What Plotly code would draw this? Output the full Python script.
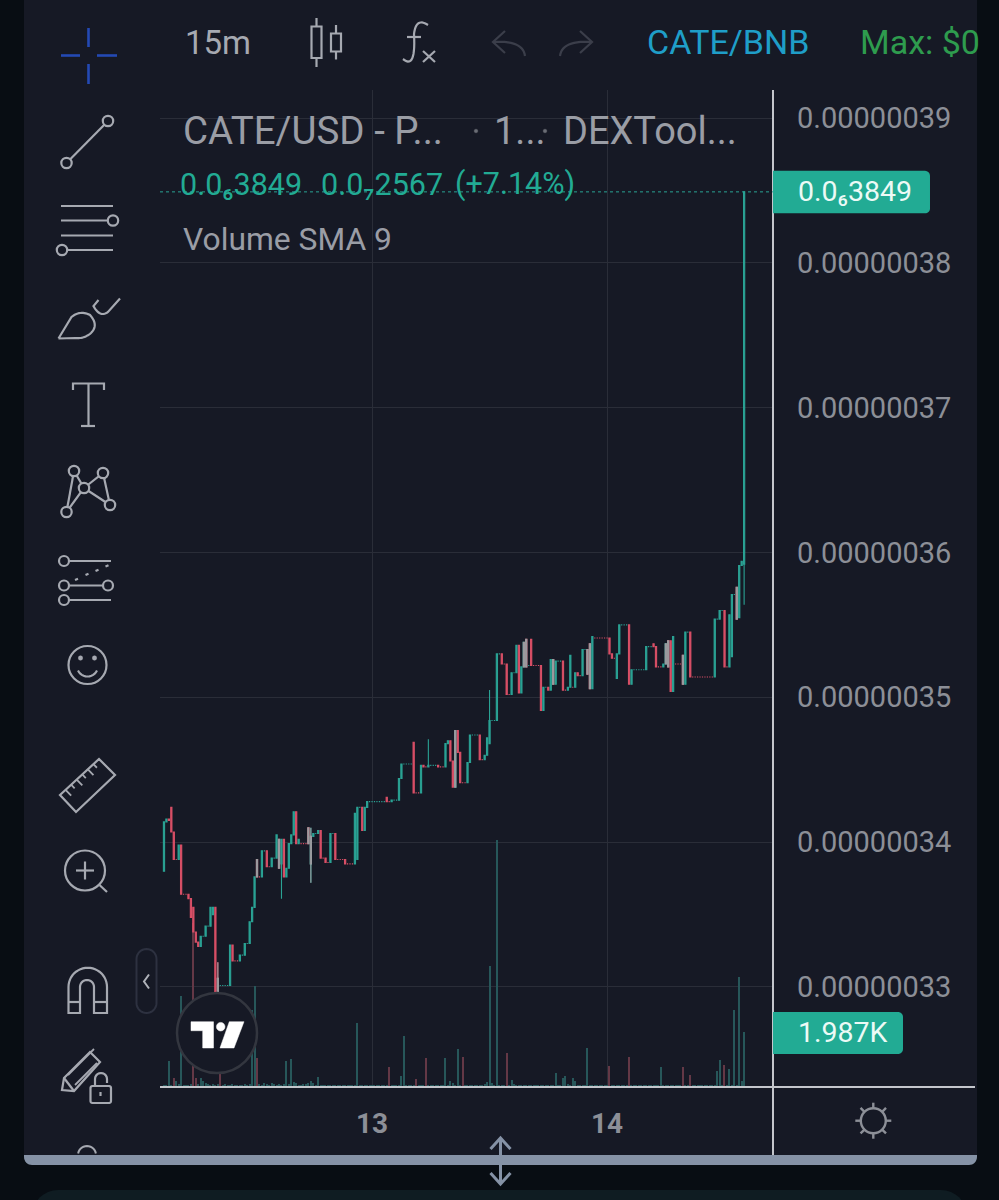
import math
import plotly.graph_objects as go

W, H = 999, 1200

# 15-minute bars, prices in units of 1e-8
opens = [
    33.80, 34.14, 34.16, 34.24, 34.07, 33.88, 33.88, 33.98, 33.64, 33.64,
    33.64, 33.61, 33.55, 33.38, 33.31, 33.28, 33.35, 33.35, 33.42, 33.42,
    33.50, 33.55, 33.06, 33.01, 33.01, 33.01, 33.01, 33.01, 33.29, 33.18,
    33.18, 33.18, 33.22, 33.22, 33.30, 33.30, 33.45, 33.55, 33.88, 33.76,
    33.76, 33.94, 33.94, 33.83, 33.83, 33.89, 33.89, 34.02, 33.85, 34.02,
    33.76, 33.82, 33.99, 34.05, 34.21, 33.99, 33.99, 33.99, 33.99, 34.10,
    33.85, 34.04, 34.06, 34.06, 34.08, 33.89, 33.89, 33.86, 33.86, 34.06,
    34.06, 33.88, 33.88, 33.88, 33.88, 33.85, 33.85, 33.85, 33.85, 33.88,
    34.24, 34.24, 34.08, 34.24, 34.28, 34.28, 34.28, 34.28, 34.28, 34.28,
    34.28, 34.31, 34.28, 34.28, 34.29, 34.29, 34.29, 34.44, 34.54, 34.54,
    34.54, 34.54, 34.69, 34.34, 34.34, 34.34, 34.53, 34.52, 34.52, 34.53,
    34.53, 34.53, 34.53, 34.52, 34.52, 34.52, 34.68, 34.70, 34.56, 34.38,
    34.77, 34.62, 34.41, 34.41, 34.41, 34.55, 34.74, 34.74, 34.74, 34.74,
    34.57, 34.57, 34.60, 34.68, 34.84, 34.84, 34.84, 35.30, 35.30, 35.23,
    35.23, 35.02, 35.02, 35.17, 35.17, 35.36, 35.03, 35.21, 35.40, 35.22,
    35.40, 35.22, 35.22, 35.22, 35.22, 34.91, 35.07, 35.07, 35.05, 35.26,
    35.09, 35.25, 35.25, 35.25, 35.05, 35.05, 35.07, 35.07, 35.07, 35.17,
    35.15, 35.15, 35.33, 35.33, 35.37, 35.06, 35.41, 35.41, 35.41, 35.41,
    35.41, 35.41, 35.41, 35.30, 35.27, 35.13, 35.30, 35.50, 35.50, 35.50,
    35.50, 35.09, 35.19, 35.19, 35.19, 35.19, 35.19, 35.19, 35.35, 35.35,
    35.37, 35.35, 35.21, 35.21, 35.21, 35.23, 35.39, 35.39, 35.04, 35.23,
    35.23, 35.23, 35.29, 35.09, 35.45, 35.45, 35.14, 35.14, 35.14, 35.14,
    35.14, 35.14, 35.14, 35.14, 35.14, 35.14, 35.54, 35.54, 35.60, 35.60,
    35.21, 35.21, 35.28, 35.71, 35.76, 35.55, 35.91, 35.92,
]
closes = [
    34.14, 34.16, 34.15, 34.07, 33.88, 33.88, 33.98, 33.64, 33.64, 33.64,
    33.61, 33.48, 33.38, 33.31, 33.28, 33.35, 33.35, 33.42, 33.42, 33.55,
    33.55, 32.95, 32.95, 33.01, 33.01, 33.01, 33.01, 33.29, 33.18, 33.18,
    33.18, 33.22, 33.22, 33.30, 33.30, 33.45, 33.55, 33.76, 33.76, 33.76,
    33.94, 33.94, 33.83, 33.83, 33.89, 33.89, 34.05, 33.82, 34.02, 33.76,
    33.82, 33.99, 34.05, 34.21, 33.99, 34.02, 33.99, 33.99, 33.99, 33.99,
    34.04, 34.06, 34.06, 34.08, 33.89, 33.89, 33.86, 33.86, 34.06, 34.06,
    33.88, 33.88, 33.88, 33.88, 33.85, 33.85, 33.85, 33.85, 34.20, 34.24,
    34.24, 34.08, 34.24, 34.28, 34.28, 34.28, 34.28, 34.28, 34.28, 34.28,
    34.28, 34.28, 34.28, 34.29, 34.29, 34.29, 34.44, 34.54, 34.54, 34.54,
    34.54, 34.54, 34.34, 34.34, 34.34, 34.53, 34.52, 34.52, 34.53, 34.53,
    34.53, 34.53, 34.52, 34.52, 34.52, 34.68, 34.70, 34.56, 34.38, 34.77,
    34.62, 34.41, 34.41, 34.41, 34.55, 34.74, 34.74, 34.74, 34.74, 34.57,
    34.57, 34.60, 34.72, 34.84, 34.84, 34.84, 35.30, 35.30, 35.23, 35.23,
    35.02, 35.02, 35.17, 35.17, 35.36, 35.03, 35.21, 35.38, 35.21, 35.22,
    35.22, 35.22, 35.22, 35.22, 34.91, 35.07, 35.07, 35.05, 35.26, 35.09,
    35.25, 35.25, 35.25, 35.05, 35.05, 35.07, 35.29, 35.07, 35.17, 35.15,
    35.15, 35.33, 35.33, 35.16, 35.06, 35.42, 35.41, 35.41, 35.41, 35.41,
    35.41, 35.41, 35.30, 35.27, 35.27, 35.30, 35.50, 35.50, 35.50, 35.50,
    35.09, 35.19, 35.19, 35.19, 35.19, 35.19, 35.19, 35.35, 35.35, 35.35,
    35.35, 35.21, 35.21, 35.21, 35.23, 35.37, 35.21, 35.04, 35.42, 35.23,
    35.23, 35.23, 35.09, 35.45, 35.45, 35.14, 35.14, 35.14, 35.14, 35.14,
    35.14, 35.14, 35.14, 35.14, 35.14, 35.54, 35.54, 35.60, 35.60, 35.21,
    35.21, 35.57, 35.71, 35.71, 35.54, 35.91, 35.94, 38.49,
]
# bars whose wick extends past the body
wick_highs = {22: 33.17, 60: 34.10, 108: 34.71, 133: 35.05}
wick_lows = {48: 33.61, 60: 33.72, 237: 35.64}
# bars drawn in the chart's neutral grey
grey_bars = [22, 38, 47, 59, 60, 119, 147, 148, 159, 173, 174, 205, 206, 212, 234]

volumes = [
    60, 90, 940, 70, 340, 216, 110, 3280, 60, 80,
    90, 110, 5925, 340, 120, 340, 216, 150, 100, 80,
    120, 90, 110, 456, 90, 110, 70, 60, 100, 80,
    70, 60, 90, 110, 80, 120, 2800, 3650, 1056, 110,
    90, 150, 110, 90, 130, 100, 80, 120, 90, 110,
    936, 120, 1020, 180, 140, 90, 80, 110, 100, 130,
    216, 150, 90, 360, 80, 60, 70, 90, 60, 50,
    60, 70, 50, 60, 80, 50, 60, 50, 70, 2316,
    70, 50, 60, 40, 60, 50, 70, 60, 40, 50,
    60, 50, 720, 70, 40, 60, 50, 396, 1860, 60,
    50, 70, 90, 276, 70, 60, 50, 1032, 60, 50,
    60, 70, 50, 60, 40, 1032, 70, 216, 150, 90,
    1380, 80, 1080, 70, 60, 90, 50, 60, 40, 50,
    70, 100, 180, 4370, 130, 60, 8925, 90, 70, 60,
    1236, 90, 240, 120, 60, 80, 50, 70, 90, 60,
    50, 60, 80, 60, 50, 70, 60, 50, 60, 70,
    516, 90, 60, 336, 384, 120, 70, 312, 216, 90,
    60, 70, 80, 1416, 70, 60, 50, 80, 60, 50,
    60, 70, 756, 90, 60, 80, 50, 70, 60, 50,
    1080, 60, 50, 70, 60, 90, 50, 60, 40, 70,
    60, 50, 70, 732, 60, 90, 50, 70, 60, 80,
    50, 70, 732, 60, 90, 432, 60, 50, 70, 60,
    50, 60, 80, 60, 70, 60, 576, 960, 80, 780,
    70, 660, 90, 2772, 60, 3975, 220, 1987,
]
red_volume_bars = [4, 12, 13, 23, 38, 92, 103, 107, 122, 140, 182, 190, 212, 215, 229]

price_ticks = [33, 34, 35, 36, 37, 38, 39]
day_ticks = [85, 181]
day_labels = ["13", "14"]

UP = "#2aa294"
DOWN = "#d84f66"
GREY_BAR = "#9b9b9f"
VOL_UP = "#27575a"
VOL_DOWN = "#643846"
PANEL = "#161925"
DARK = "#080d13"
GRID = "#2a2d38"
ICON = "#a6a9b1"
LABEL = "#8c8f97"
AXIS = "#c4c6cc"

bars = list(range(len(closes)))
highs = [wick_highs.get(i, max(opens[i], closes[i])) for i in bars]
lows = [wick_lows.get(i, min(opens[i], closes[i])) for i in bars]

E8 = 1e-8
PRICE_LOW, PRICE_HIGH = 32.3095, 39.1933
VOL_TOP = 36025

shapes = []


def px(x, y):
    return x / W, 1 - y / H


def svg(points, closed=False):
    parts = []
    for k, (x, y) in enumerate(points):
        a, b = px(x, y)
        parts.append(f"{'M' if k == 0 else 'L'}{a:.5f},{b:.5f}")
    return " ".join(parts) + (" Z" if closed else "")


def stroke(points, color=ICON, width=2.2, closed=False, fill=None, layer="above"):
    shapes.append(dict(type="path", xref="paper", yref="paper", path=svg(points, closed),
                       line=dict(color=color, width=width),
                       fillcolor=fill if fill else "rgba(0,0,0,0)", layer=layer))


def arc(cx, cy, r, a0, a1, n=24):
    return [(cx + r * math.cos(math.radians(a0 + (a1 - a0) * k / n)),
             cy + r * math.sin(math.radians(a0 + (a1 - a0) * k / n))) for k in range(n + 1)]


def curve(p0, p1, p2, n=14):
    out = []
    for k in range(n + 1):
        t = k / n
        out.append(((1 - t) ** 2 * p0[0] + 2 * t * (1 - t) * p1[0] + t * t * p2[0],
                    (1 - t) ** 2 * p0[1] + 2 * t * (1 - t) * p1[1] + t * t * p2[1]))
    return out


def ring(cx, cy, r, color=ICON, width=2.2, fill=PANEL):
    x0, y0 = px(cx - r, cy - r)
    x1, y1 = px(cx + r, cy + r)
    shapes.append(dict(type="circle", xref="paper", yref="paper", x0=x0, y0=y0, x1=x1, y1=y1,
                       line=dict(color=color, width=width), fillcolor=fill, layer="above"))


def box(x0, y0, x1, y1, fill, layer="below"):
    a, b = px(x0, y0)
    c, d = px(x1, y1)
    shapes.append(dict(type="rect", xref="paper", yref="paper", x0=a, y0=b, x1=c, y1=d,
                       line=dict(width=0), fillcolor=fill, layer=layer))


def rounded(x0, y0, x1, y1, radii, fill, color=None, width=0, layer="below"):
    tl, tr, br, bl = radii
    pts = arc(x0 + tl, y0 + tl, tl, 180, 270, 8) + arc(x1 - tr, y0 + tr, tr, 270, 360, 8)
    pts += arc(x1 - br, y1 - br, br, 0, 90, 8) + arc(x0 + bl, y1 - bl, bl, 90, 180, 8)
    stroke(pts, color=color or fill, width=width, closed=True, fill=fill, layer=layer)


# surrounding page and panel
box(0, 0, W, H, DARK)
box(24, 0, 977, 1155, PANEL)
rounded(24, 1155, 977, 1165, (0, 0, 8, 8), "#8592a6")
rounded(32, 1190, 967, 1240, (26, 26, 0, 0), "#0f1c22")

# drawing toolbar, top to bottom
BLUE = "#2449b4"
for seg in ([(61, 55.5), (80, 55.5)], [(97, 55.5), (117, 55.5)], [(88.5, 28), (88.5, 47)], [(88.5, 64), (88.5, 84)]):
    stroke(seg, color=BLUE, width=2.6)

stroke([(66.5, 163), (108, 121)])
ring(66.5, 163, 5.2)
ring(108, 121, 5.2)

for y in (206, 220.5, 235.5, 250):
    stroke([(61, y), (113, y)])
ring(113, 220.5, 5.2)
ring(62, 250, 5.2)

stroke([(120, 298.5), (108, 312)] + curve((108, 312), (100, 318), (93.5, 306)) + [(98.5, 300)])
stroke([(58.5, 338.5), (71.5, 317)] + curve((71.5, 317), (80, 310), (90, 315)) +
       curve((90, 315), (99, 325), (91, 333)) + curve((91, 333), (84, 339), (75, 338)) + [(58.5, 338.5)])

stroke([(73, 390), (73, 383.5), (104, 383.5), (104, 390)])
stroke([(88.5, 383.5), (88.5, 426)])
stroke([(81, 426), (95, 426)])

pat = [(66.5, 512), (74, 471), (84, 488), (103, 473), (110, 505)]
stroke([pat[0], pat[1]])
stroke([pat[1], pat[2], pat[0]])
stroke([pat[2], pat[3], pat[4], pat[2]])
for x, y in pat:
    ring(x, y, 5.2)

stroke([(64, 561), (111, 561)])
stroke([(64, 585.5), (108, 585.5)])
stroke([(64, 600), (111, 600)])
for x, y in ((75, 580), (85.5, 575), (95.5, 571), (105.5, 566.5)):
    stroke([(x, y), (x + 3, y - 1.2)])
for x, y in ((64, 561), (64, 585.5), (108, 585.5), (64, 600)):
    ring(x, y, 5)

ring(87.5, 665, 19)
ring(80.5, 658, 2.2, fill=ICON, width=0.5)
ring(94.5, 658, 2.2, fill=ICON, width=0.5)
stroke(arc(87.5, 666, 10.5, 25, 155, 12))

stroke([(60, 795), (99, 759), (115, 775), (76, 812)], closed=True)
for k in range(1, 7):
    xa, ya = 60 + (99 - 60) * k / 7, 795 + (759 - 795) * k / 7
    tick = 8 if k % 2 else 5
    stroke([(xa, ya), (xa + tick * 0.7, ya + tick * 0.72)], width=1.8)

ring(85, 870.5, 20)
stroke([(76, 870.5), (94, 870.5)])
stroke([(85, 861.5), (85, 879.5)])
stroke([(99.5, 885), (107, 892)])

stroke([(68.5, 1013)] + arc(87.75, 987, 19.25, 180, 360) + [(107, 1013), (94, 1013)] +
       arc(87, 987, 7, 360, 180) + [(80, 1013)], closed=True)
stroke([(68.5, 1002), (80, 1002)])
stroke([(94, 1002), (107, 1002)])

stroke([(62, 1090), (64, 1078), (90, 1052), (100, 1062), (74, 1091)], closed=True)
stroke([(64, 1078), (74, 1091)])
stroke([(68, 1075), (94, 1049)], width=1.8)
stroke([(75, 1085), (97, 1063)], width=1.8)
rounded(90.5, 1086, 111, 1103, (2, 2, 2, 2), PANEL, color=ICON, width=2.2, layer="above")
stroke([(95, 1086)] + arc(101, 1079, 6, 180, 360, 10) + [(107, 1083)])
stroke([(100.5, 1092), (100.5, 1096)])

stroke(arc(87, 1155, 9, 190, 350, 14), width=2)

# top bar icons
stroke([(311.5, 26.5), (321.5, 26.5), (321.5, 58), (311.5, 58)], closed=True)
stroke([(316.5, 18), (316.5, 26.5)])
stroke([(316.5, 58), (316.5, 67)])
stroke([(331, 33.5), (341, 33.5), (341, 51.5), (331, 51.5)], closed=True)
stroke([(336, 25), (336, 33.5)])
stroke([(336, 51.5), (336, 59.5)])

stroke(curve((428, 25), (416, 17), (414, 34)) + curve((414, 34), (416, 70), (403, 59)))
stroke([(407, 37), (421, 37)])
stroke([(423, 51), (435, 62)])
stroke([(435, 51), (423, 62)])

DIM = "#3b3e4a"
stroke([(505, 31), (493, 42), (505, 53)], color=DIM)
stroke([(493, 42)] + curve((493, 42), (523, 40), (525, 56)), color=DIM)
stroke([(580, 31), (592, 42), (580, 53)], color=DIM)
stroke([(592, 42)] + curve((592, 42), (562, 40), (560, 56)), color=DIM)

# price-axis and time-axis rules
stroke([(773, 90), (773, 1155)], color=AXIS, width=2)
stroke([(160, 1087), (975, 1087)], color=AXIS, width=2)

# settings wheel
ring(873.3, 1120.7, 12.5, color=LABEL, width=2.4, fill=PANEL)
for ang in range(0, 360, 45):
    c, s = math.cos(math.radians(ang)), math.sin(math.radians(ang))
    stroke([(873.3 + 12.5 * c, 1120.7 + 12.5 * s), (873.3 + 18 * c, 1120.7 + 18 * s)], color=LABEL, width=2.4)

# collapse handle
rounded(136.5, 949, 156.5, 1013, (10, 10, 10, 10), PANEL, color="#2d3140", width=2, layer="above")
stroke([(149, 974.5), (144, 981.5), (149, 988.5)], color="#b0b3ba", width=2)

# pane splitter arrow
stroke([(500.5, 1139), (500.5, 1182)], color="#8592a6", width=3)
stroke([(490.5, 1149), (500.5, 1138), (510.5, 1149)], color="#8592a6", width=3)
stroke([(490.5, 1173), (500.5, 1184), (510.5, 1173)], color="#8592a6", width=3)

# separators in the chart title
ring(476, 131, 1.8, color="#6a6d75", width=0.5, fill="#6a6d75")
ring(545, 131, 1.8, color="#6a6d75", width=0.5, fill="#6a6d75")

# chart-library badge
ring(217, 1033, 40, color="#33363f", width=2.5, fill="#161925")
stroke([(191, 1021.7), (213.5, 1021.7), (213.5, 1048), (202.7, 1048), (202.7, 1030.7), (191, 1030.7)],
       color="#ffffff", width=0.5, closed=True, fill="#ffffff")
ring(220.7, 1026.7, 4.3, color="#ffffff", width=0.5, fill="#ffffff")
stroke([(229.3, 1021.7), (244, 1021.7), (234, 1048), (220, 1048)],
       color="#ffffff", width=0.5, closed=True, fill="#ffffff")

# last-price marker tied to the final close
last_close = closes[-1]


def price_y(p):
    top, bottom = 90, 1087
    return top + (PRICE_HIGH - p) / (PRICE_HIGH - PRICE_LOW) * (bottom - top)


shapes.append(dict(type="line", xref="paper", yref="y2", x0=160 / W, x1=773 / W,
                   y0=last_close * E8, y1=last_close * E8,
                   line=dict(color=UP, width=1, dash="dot"), layer="above"))
yp = price_y(last_close)
rounded(773, yp - 21, 930, yp + 21.5, (0, 5, 5, 0), "#22ab94", layer="above")

# current-volume marker tied to the final volume
vol_y = 1087 - volumes[-1] / VOL_TOP * 997
rounded(773, vol_y - 20, 903, vol_y + 22, (0, 5, 5, 0), "#22ab94", layer="above")


def label(text, x, y, size, color, anchor="left", family="Roboto"):
    a, b = px(x, y)
    return dict(text=text, x=a, y=b, xref="paper", yref="paper", xanchor=anchor, yanchor="middle",
                showarrow=False, font=dict(family=family, size=size, color=color),
                align="left", borderpad=0)


annotations = [
    label("15m", 184, 42, 33, "#a6a9b1"),
    label("CATE/BNB", 646, 42, 34, "#1f9ec8"),
    label("Max: $0", 859, 42, 34, "#2e9c4e"),
    label("CATE/USD - P...", 182, 131, 38.5, "#9a9da5"),
    label("1...", 493, 131, 38, "#9a9da5"),
    label("DEXTool...", 562, 131, 38, "#9a9da5"),
    label("0.0₆3849", 179, 184, 30.5, "#22ab94"),
    label("0.0₇2567", 320, 184, 30.5, "#22ab94"),
    label("(+7.14%)", 454, 184, 30.5, "#22ab94"),
    label("Volume SMA 9", 182, 239, 31.8, "#9a9da5"),
    label("0.0₆3849", 797, yp, 28.5, "#ecfaf6"),
    label("1.987K", 797, vol_y, 28.5, "#ecfaf6"),
]

fig = go.Figure()
fig.add_trace(go.Bar(
    x=bars, y=volumes, width=0.45, yaxis="y", xaxis="x",
    marker=dict(color=[VOL_DOWN if i in red_volume_bars else VOL_UP for i in bars], line=dict(width=0)),
    showlegend=False,
))
fig.add_trace(go.Candlestick(
    x=bars,
    open=[v * E8 for v in opens], high=[v * E8 for v in highs],
    low=[v * E8 for v in lows], close=[v * E8 for v in closes],
    yaxis="y2", xaxis="x", showlegend=False, whiskerwidth=0,
    increasing=dict(line=dict(color=UP, width=1.1), fillcolor=UP),
    decreasing=dict(line=dict(color=DOWN, width=1.1), fillcolor=DOWN),
))
fig.add_trace(go.Candlestick(
    x=grey_bars,
    open=[opens[i] * E8 for i in grey_bars], high=[highs[i] * E8 for i in grey_bars],
    low=[lows[i] * E8 for i in grey_bars], close=[closes[i] * E8 for i in grey_bars],
    yaxis="y2", xaxis="x", showlegend=False, whiskerwidth=0,
    increasing=dict(line=dict(color=GREY_BAR, width=1.1), fillcolor=GREY_BAR),
    decreasing=dict(line=dict(color=GREY_BAR, width=1.1), fillcolor=GREY_BAR),
))

fig.update_layout(
    width=W, height=H, margin=dict(l=0, r=0, t=0, b=0), autosize=False,
    paper_bgcolor=DARK, plot_bgcolor="rgba(0,0,0,0)",
    font=dict(family="Roboto"), bargap=0, showlegend=False,
    shapes=shapes, annotations=annotations,
    xaxis=dict(
        domain=[160 / W, 773 / W], range=[-1.63, 248.8], rangeslider=dict(visible=False),
        tickmode="array", tickvals=day_ticks, ticktext=[f"<b>{t}</b>" for t in day_labels],
        tickfont=dict(family="Roboto", size=28, color=LABEL),
        showgrid=True, gridcolor=GRID, gridwidth=1, zeroline=False, showline=False,
        ticks="", ticklabelstandoff=17, anchor="y",
    ),
    yaxis=dict(
        domain=[1 - 1087 / H, 1 - 90 / H], range=[0, VOL_TOP], visible=False,
        showgrid=False, zeroline=False, fixedrange=True,
    ),
    yaxis2=dict(
        domain=[1 - 1087 / H, 1 - 90 / H], overlaying="y", side="right", anchor="x",
        range=[PRICE_LOW * E8, PRICE_HIGH * E8],
        tickmode="array", tickvals=[t * E8 for t in price_ticks], tickformat=".8f",
        tickfont=dict(family="Roboto", size=29, color=LABEL),
        showgrid=True, gridcolor=GRID, gridwidth=1, zeroline=False, showline=False,
        ticks="", ticklabelstandoff=23,
    ),
)

fig.write_html("out.html")
